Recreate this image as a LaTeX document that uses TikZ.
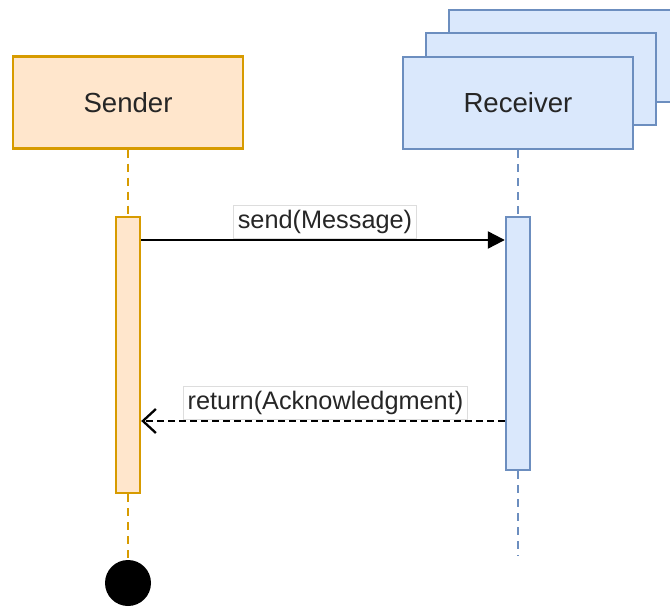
\documentclass[tikz,border=0pt]{standalone}
\usepackage{fontspec}
\setmainfont{Liberation Sans}
\usetikzlibrary{arrows.meta}

\definecolor{orangefill}{HTML}{FFE6CC}
\definecolor{orangeline}{HTML}{D79B00}
\definecolor{bluefill}{HTML}{DAE8FC}
\definecolor{blueline}{HTML}{6C8EBF}
\definecolor{labelline}{HTML}{DDDDDD}
\definecolor{textgray}{HTML}{262626}

\tikzset{
  header/.style={draw, line width=2.4pt, minimum width=230pt, minimum height=92pt,
    inner sep=0pt, text=textgray, font=\fontsize{27.6}{30}\selectfont},
  senderhead/.style={header, fill=orangefill, draw=orangeline},
  receiverhead/.style={header, fill=bluefill, draw=blueline},
  activation/.style={draw, line width=2.4pt, minimum width=24pt, inner sep=0pt},
  lifeline/.style={line width=2.3pt, dash pattern=on 8pt off 6pt},
  msglabel/.style={fill=white, draw=labelline, line width=0.8pt, inner xsep=4.5pt,
    inner ysep=0pt, minimum height=33pt, text=textgray, font=\fontsize{25.3}{28}\selectfont},
  call/.style={line width=2.3pt, -{Triangle[length=17pt,width=17pt]}},
  reply/.style={line width=2.3pt, dash pattern=on 7pt off 4pt,
    -{Straight Barb[length=13pt,width=24pt,line width=2.3pt]}},
}

\begin{document}
\begin{tikzpicture}[x=1pt, y=-1pt]
  \useasboundingbox (0,0) rectangle (670,607);
  \clip (0,0) rectangle (670,607);

  % receiver stack (multiple instances), back to front
  \node[receiverhead] (recv3) at (564,56) {};
  \node[receiverhead] (recv2) at (541,79) {};
  \node[receiverhead] (recv) at (518,103) {Receiver};

  % sender header
  \node[senderhead] (send) at (128,102.5) {Sender};

  % activation bars
  \node[activation, fill=orangefill, draw=orangeline, minimum height=276pt] (sendbar) at (128,355) {};
  \node[activation, fill=bluefill, draw=blueline, minimum height=253pt] (recvbar) at (518,343.5) {};

  % termination of the sender
  \node[circle, fill=black, minimum size=46pt, inner sep=0pt] (stop) at (128,583) {};
  \coordinate (recvend) at (518,556);

  % lifelines
  \draw[lifeline, orangeline] (send.south) -- (sendbar.north);
  \draw[lifeline, orangeline] (sendbar.south) -- (stop.north);
  \draw[lifeline, blueline] (recv.south) -- (recvbar.north);
  \draw[lifeline, blueline] (recvbar.south) -- (recvend);

  % message levels
  \coordinate (m1) at (0,240);
  \coordinate (m2) at (0,421);

  % messages
  \draw[call] (sendbar.east |- m1) -- (recvbar.west |- m1);
  \node[msglabel] (l1) at (325,221.5) {send(Message)};

  \draw[reply] (recvbar.west |- m2) -- (sendbar.east |- m2);
  \node[msglabel] (l2) at (325.5,403) {return(Acknowledgment)};
\end{tikzpicture}
\end{document}
